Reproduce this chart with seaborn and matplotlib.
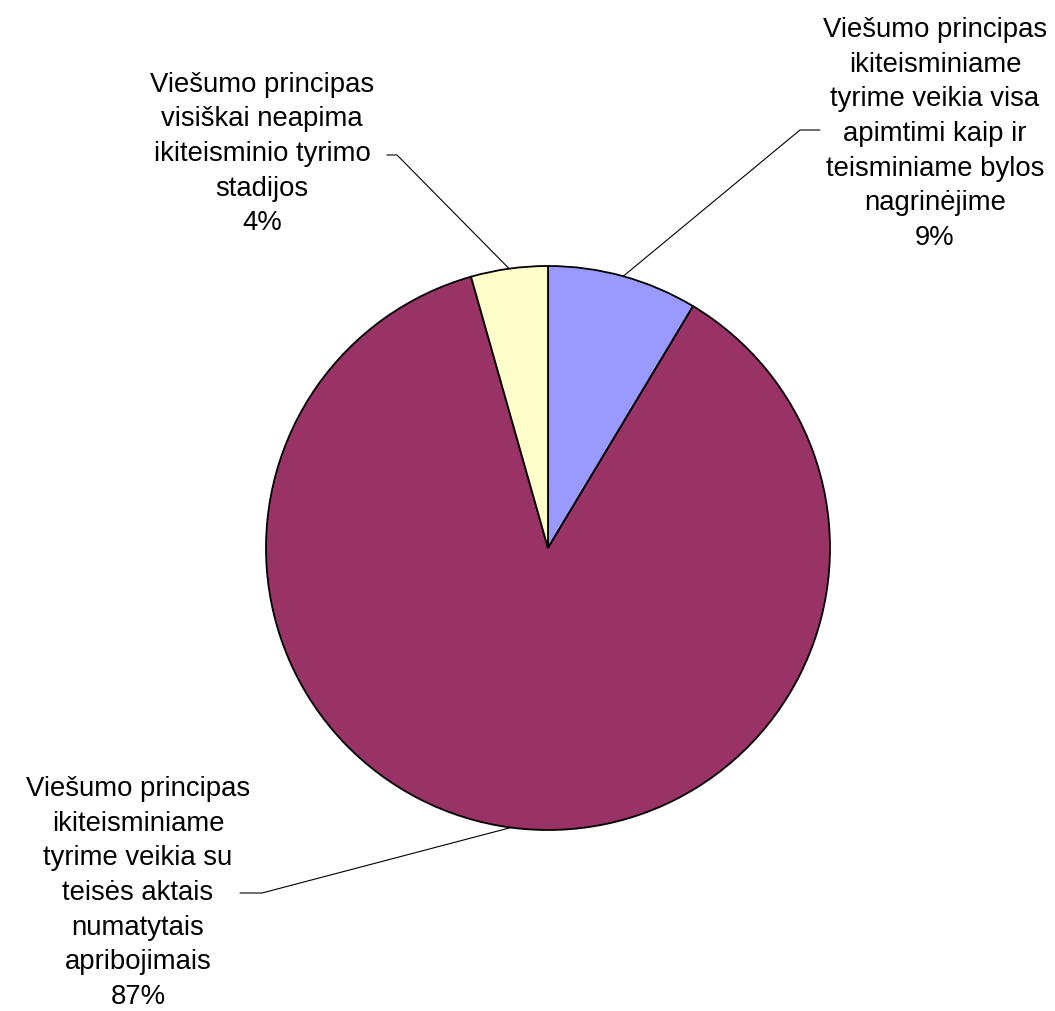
import numpy as np
import matplotlib
matplotlib.use("Agg")
import matplotlib.pyplot as plt
import seaborn as sns

categories = [
    "Viešumo principas\nikiteisminiame\ntyrime veikia visa\napimtimi kaip ir\nteisminiame bylos\nnagrinėjime",
    "Viešumo principas\nikiteisminiame\ntyrime veikia su\nteisės aktais\nnumatytais\napribojimais",
    "Viešumo principas\nvisiškai neapima\nikiteisminio tyrimo\nstadijos",
]
values = [8.6, 87.0, 4.4]
colors = ["#9999FF", "#993366", "#FFFFCC"]

sns.set_theme(style="white")
plt.rcParams['font.family'] = ['Liberation Sans', 'DejaVu Sans']

W, H = 1055, 1011
fig = plt.figure(figsize=(W / 100, H / 100), dpi=100)
ax = fig.add_axes([0, 0, 1, 1])
ax.set_xlim(0, W)
ax.set_ylim(0, H)
ax.set_aspect("equal")
ax.axis("off")

cx, cy, R = 548, H - 548, 282
wedges, _ = ax.pie(values, colors=colors, startangle=90, counterclock=False,
                   center=(cx, cy), radius=R,
                   wedgeprops=dict(edgecolor="black", linewidth=1.3))
ax.set_xlim(0, W)
ax.set_ylim(0, H)

# label placement (image coords): text center, elbow, horizontal end
label_pos = [
    dict(text=(935, 134), elbow=(800, 130), hend=(820, 130)),
    dict(text=(138, 893), elbow=(262, 893), hend=(240, 893)),
    dict(text=(262, 154), elbow=(397, 155), hend=(387, 155)),
]

total = sum(values)
for w, cat, v, lp in zip(wedges, categories, values, label_pos):
    mid = np.deg2rad((w.theta1 + w.theta2) / 2)
    px, py = cx + R * np.cos(mid), cy + R * np.sin(mid)
    ex, ey = lp["elbow"][0], H - lp["elbow"][1]
    hx, hy = lp["hend"][0], H - lp["hend"][1]
    ax.plot([px, ex, hx], [py, ey, hy], color="black", lw=0.8)
    pct = f"{round(100 * v / total)}%"
    ax.text(lp["text"][0], H - lp["text"][1], f"{cat}\n{pct}",
            ha="center", va="center", fontsize=19.8, linespacing=1.43,
            color="black")

fig.savefig("out.png", dpi=100, facecolor="white")
